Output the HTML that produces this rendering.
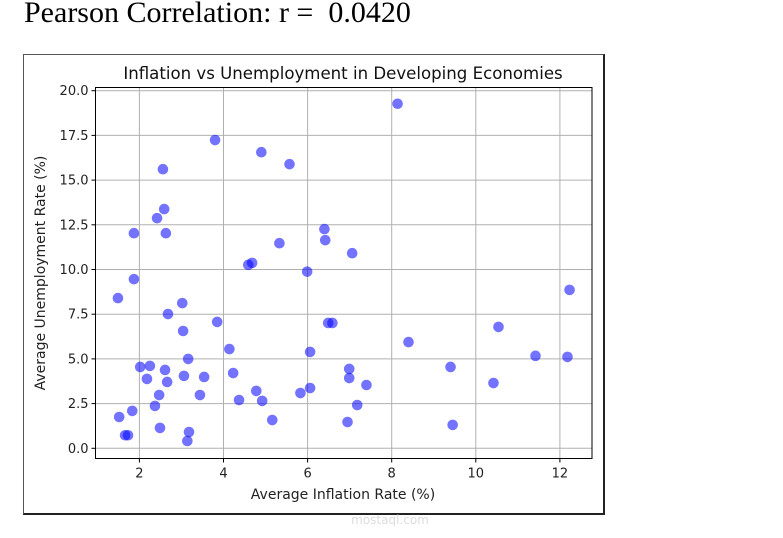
<!DOCTYPE html>
<html><head><meta charset="utf-8"><style>
html,body{margin:0;padding:0;background:#fff;width:783px;height:538px;overflow:hidden}
#title{position:absolute;left:24px;top:-4px;font-family:"Liberation Serif",serif;font-size:30px;color:#000;white-space:pre}
#box{position:absolute;left:23px;top:54px;width:579px;height:458px;border:1px solid #555;border-right:2px solid #222;border-bottom:2px solid #222}
svg{position:absolute;left:0;top:0}
</style></head><body>
<div id="title">Pearson Correlation: r =  0.0420</div>
<div id="box"></div>
<svg id="chart" width="783" height="538"></svg>
<script>
const inflation=[8.14,3.80,4.90,5.57,2.56,2.59,2.42,1.87,2.63,6.40,6.42,5.33,7.06,4.59,4.68,5.99,1.87,1.49,3.02,12.23,2.68,3.85,6.49,6.59,10.54,3.04,8.40,4.14,6.06,3.16,11.42,12.18,2.02,2.25,2.61,4.23,9.40,6.99,2.18,2.66,3.54,3.06,6.99,7.40,10.42,6.06,4.78,5.83,2.47,3.44,4.37,4.92,7.18,2.37,1.83,1.52,5.16,6.95,9.45,2.49,3.18,1.66,1.73,3.14];
const unemployment=[19.27,17.24,16.56,15.89,15.61,13.38,12.87,12.03,12.03,12.26,11.64,11.47,10.91,10.26,10.37,9.88,9.46,8.40,8.12,8.86,7.51,7.07,7.01,7.01,6.79,6.56,5.94,5.55,5.39,5.00,5.17,5.11,4.55,4.61,4.38,4.21,4.55,4.44,3.88,3.71,3.99,4.05,3.93,3.54,3.65,3.37,3.21,3.09,2.98,2.98,2.70,2.65,2.42,2.37,2.09,1.75,1.58,1.47,1.31,1.14,0.91,0.73,0.73,0.41];
const xTicks=[2,4,6,8,10,12];
const yTicks=[0,2.5,5,7.5,10,12.5,15,17.5,20];
const yTickLabels=["0.0","2.5","5.0","7.5","10.0","12.5","15.0","17.5","20.0"];
const NS="http://www.w3.org/2000/svg";
const svg=document.getElementById('chart');
const L=95.5,R=592,T=87.5,B=458.5;
function sx(v){return 55.3+v*42.05;}
function sy(v){return 448.3-v*17.88;}
function mk(t,a){const e=document.createElementNS(NS,t);for(const k in a)e.setAttribute(k,a[k]);svg.appendChild(e);return e;}
const font='"DejaVu Sans","Liberation Sans",sans-serif';
xTicks.forEach(v=>{
 const g=mk('line',{x1:sx(v),x2:sx(v),y1:T,y2:B,stroke:'#b0b0b0','stroke-width':1});
 
 
 mk('line',{x1:sx(v),x2:sx(v),y1:B,y2:B+4,stroke:'#000'});
 const t=mk('text',{x:sx(v),y:B+19,'text-anchor':'middle','font-family':font,'font-size':13,fill:'#222'});
 t.textContent=v;
 
 
});
yTicks.forEach((v,i)=>{
 const g=mk('line',{x1:L,x2:R,y1:sy(v),y2:sy(v),stroke:'#b0b0b0','stroke-width':1});
 
 
 mk('line',{x1:L-4,x2:L,y1:sy(v),y2:sy(v),stroke:'#000'});
 const t=mk('text',{x:L-7,y:sy(v)+4.5,'text-anchor':'end','font-family':font,'font-size':13,fill:'#222'});
 t.textContent=yTickLabels[i];
 
 
});
inflation.forEach((x,i)=>{
 const c=mk('circle',{cx:sx(x),cy:sy(unemployment[i]),r:5.3,fill:'rgba(0,0,255,0.55)'});
 
 
});
const fr=mk('rect',{x:L,y:T,width:R-L,height:B-T,fill:'none',stroke:'#000','stroke-width':1});


const ct=mk('text',{x:343,y:79,'text-anchor':'middle','font-family':font,'font-size':16.6,fill:'#111'});
ct.textContent='Inflation vs Unemployment in Developing Economies';


const xl=mk('text',{x:343,y:499,'text-anchor':'middle','font-family':font,'font-size':14,fill:'#222'});
xl.textContent='Average Inflation Rate (%)';


const yl=mk('text',{x:0,y:0,'text-anchor':'middle','font-family':font,'font-size':14,fill:'#222',transform:'translate(45,273) rotate(-90)'});
yl.textContent='Average Unemployment Rate (%)';


const wm=mk('text',{x:390,y:524,'text-anchor':'middle','font-family':font,'font-size':12,fill:'#ddd'});
wm.textContent='mostaql.com';


</script>
</body></html>
